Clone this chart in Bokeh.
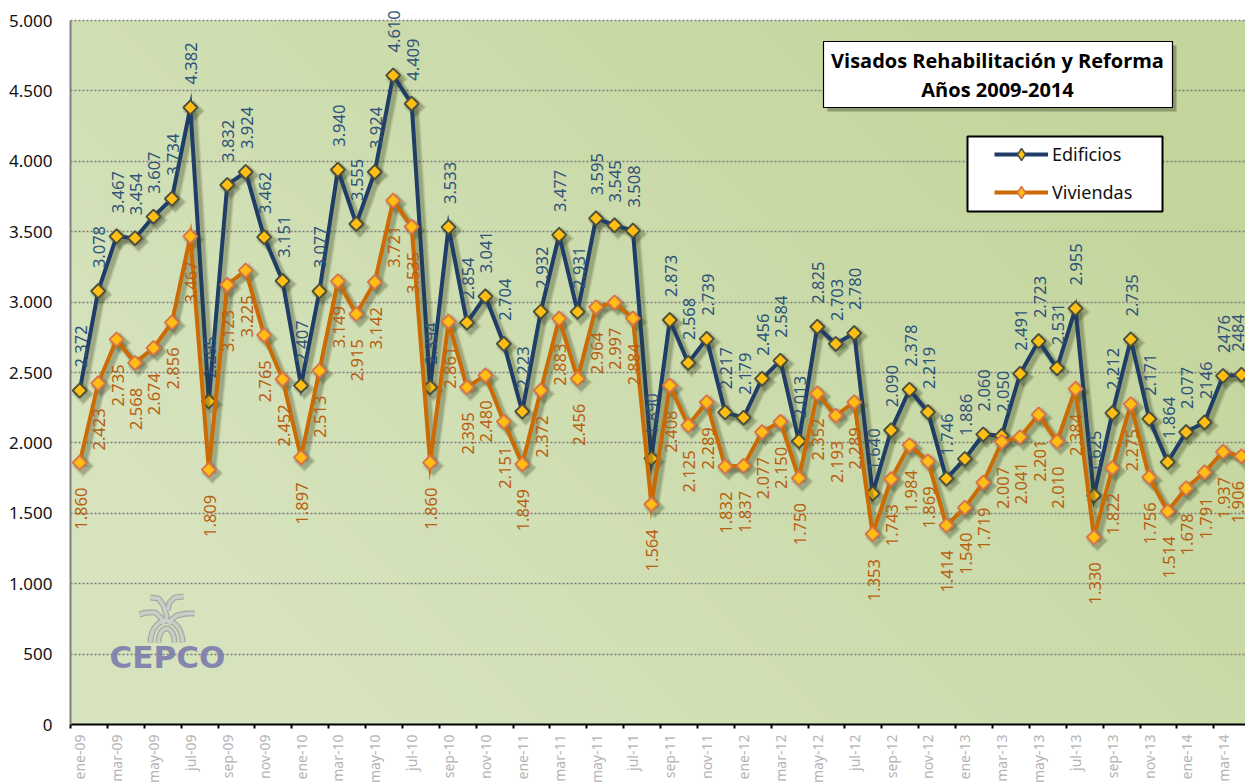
import math
import numpy as np
from bokeh.core.properties import value
from bokeh.embed import file_html
from bokeh.resources import INLINE
from bokeh.plotting import figure
from bokeh.models import (ColumnDataSource, LabelSet, Label, BoxAnnotation, FixedTicker, LinearAxis,
                          Range1d, Legend, LegendItem)
from bokeh.transform import dodge

MONTHS = ["ene", "feb", "mar", "abr", "may", "jun", "jul", "ago", "sep", "oct", "nov", "dic"]
months = [f"{MONTHS[i % 12]}-{9 + i // 12:02d}" for i in range(64)]

edificios = [2372, 3078, 3467, 3454, 3607, 3734, 4382, 2295, 3832, 3924, 3462, 3151,
             2407, 3077, 3940, 3555, 3924, 4610, 4409, 2394, 3533, 2854, 3041, 2704,
             2223, 2932, 3477, 2931, 3595, 3545, 3508, 1890, 2873, 2568, 2739, 2217,
             2179, 2456, 2584, 2013, 2825, 2703, 2780, 1640, 2090, 2378, 2219, 1746,
             1886, 2060, 2050, 2491, 2723, 2531, 2955, 1625, 2212, 2735, 2171, 1864,
             2077, 2146, 2476, 2484]
viviendas = [1860, 2423, 2735, 2568, 2674, 2856, 3467, 1809, 3123, 3225, 2765, 2452,
             1897, 2513, 3149, 2915, 3142, 3721, 3535, 1860, 2861, 2395, 2480, 2151,
             1849, 2372, 2883, 2456, 2964, 2997, 2884, 1564, 2408, 2125, 2289, 1832,
             1837, 2077, 2150, 1750, 2352, 2193, 2289, 1353, 1743, 1984, 1869, 1414,
             1540, 1719, 2007, 2041, 2201, 2010, 2384, 1330, 1822, 2275, 1756, 1514,
             1678, 1791, 1937, 1906]
undotted = {2146, 2476, 2484}
y_ticks = [0, 500, 1000, 1500, 2000, 2500, 3000, 3500, 4000, 4500, 5000]
y_labels = ["0", "500", "1.000", "1.500", "2.000", "2.500", "3.000", "3.500", "4.000", "4.500", "5.000"]

NAVY, ORANGE, GOLD = "#1f3d66", "#cc6a04", "#ffbe14"
FRAME_L, FRAME_T, FRAME_W, FRAME_B = 70, 5, 1175, 724
PLOT_H = 704  # pixels from 0 to 5000
STEP = 18.44
Y_MAX = 5000 * (FRAME_B - FRAME_T) / PLOT_H
X0, X1 = -0.5, -0.5 + FRAME_W / STEP
def px(x): return (x - FRAME_L) / STEP - 0.5
def py(y): return (FRAME_B - y) * 5000 / PLOT_H
def fmt(v):
    return str(v) if v in undotted else f"{v // 1000}.{v % 1000:03d}" if v >= 1000 else str(v)

p = figure(width=1245, height=782, output_backend="svg", toolbar_location=None,
           x_range=Range1d(X0, X1), y_range=Range1d(0, Y_MAX),
           min_border_left=FRAME_L, min_border_right=0, min_border_top=FRAME_T, min_border_bottom=58,
           frame_width=FRAME_W, frame_height=FRAME_B - FRAME_T, x_axis_location=None, y_axis_location="left",
           background_fill_color="white", border_fill_color="white",
           outline_line_color=None)

# background gradient
ny, nx = 176, 294
yy, xx = np.mgrid[0:ny, 0:nx]
t = 0.62 * xx / (nx - 1) + 0.38 * yy / (ny - 1)
t = np.clip((t - 0.18) / 0.72, 0, 1)
c0, c1 = np.array([214, 227, 189]), np.array([195, 213, 155])
rgb = (c0[None, None, :] * (1 - t[..., None]) + c1[None, None, :] * t[..., None]).astype(np.uint32)
img = (255 << 24) | (rgb[..., 2] << 16) | (rgb[..., 1] << 8) | rgb[..., 0]
p.image_rgba(image=[img], x=X0, y=0, dw=X1 - X0, dh=5000, level="image")

# grid
p.xgrid.visible = False
p.ygrid.ticker = FixedTicker(ticks=y_ticks)
p.ygrid.grid_line_color = "#7b7b78"
p.ygrid.grid_line_width = 1.4
p.ygrid.grid_line_dash = "2 2"

# axes
yaxis = p.yaxis[0]
yaxis.bounds = (0, 5000)
yaxis.ticker = FixedTicker(ticks=y_ticks)
yaxis.major_label_overrides = {t_: l for t_, l in zip(y_ticks, y_labels)}
yaxis.major_tick_line_color = None
yaxis.minor_tick_line_color = None
yaxis.major_tick_out = 0
yaxis.major_tick_in = 0
yaxis.major_label_standoff = 18
yaxis.major_label_text_font = "Noto Sans"
yaxis.major_label_text_font_size = "17px"
yaxis.major_label_text_color = "#111111"
yaxis.axis_line_color = "#808080"
yaxis.axis_line_width = 2

ticks_axis = LinearAxis(ticker=FixedTicker(ticks=[-0.5 + 2 * i for i in range(33)]),
                        major_label_overrides={-0.5 + 2 * i: "" for i in range(33)},
                        major_label_text_font_size="1px", major_label_standoff=0,
                        axis_line_color="black", axis_line_width=2,
                        major_tick_line_color="black", major_tick_line_width=2,
                        major_tick_out=4, major_tick_in=0, minor_tick_line_color=None)
p.add_layout(ticks_axis, "below")
lab_ticks = [2 * i for i in range(32)]
label_axis = LinearAxis(ticker=FixedTicker(ticks=lab_ticks),
                        major_label_overrides={i: months[i] for i in lab_ticks},
                        major_label_orientation=math.pi / 2,
                        major_label_text_font="Noto Sans", major_label_text_font_size="14px",
                        major_label_text_color="#b4b4b4", major_label_standoff=0,
                        axis_line_color=None, major_tick_line_color=None, minor_tick_line_color=None)
p.add_layout(label_axis, "below")

x = list(range(64))
nudge = [1] * 63 + [-3]   # keeps the last label inside the picture
src_e = ColumnDataSource(dict(x=x, y=edificios, lab=[fmt(v) for v in edificios], dx=nudge))
src_v = ColumnDataSource(dict(x=x, y=viviendas, lab=[fmt(v) for v in viviendas], dx=nudge))

SX, SY = 3.5 / STEP, -3.5 * 5000 / PLOT_H
def draw(src, line_color, edge_color, edge_width):
    sx, sy = dodge("x", SX), dodge("y", SY)
    for w, a in ((9, 0.09), (7, 0.13), (5, 0.18)):
        p.line(x=sx, y=sy, source=src, line_color="#3a4224", line_width=w, line_alpha=a)
    for s, a in ((16, 0.14), (13, 0.24)):
        p.scatter(x=sx, y=sy, source=src, marker="square", angle=math.pi / 4, size=s,
                  fill_color="#3a4224", fill_alpha=a, line_color=None)
    ln = p.line(x="x", y="y", source=src, line_color=line_color, line_width=4, line_join="miter")
    p.scatter(x="x", y="y", source=src, marker="square", angle=math.pi / 4, size=10,
              fill_color=GOLD, line_color=edge_color, line_width=edge_width)
    key = p.scatter(x=[float("nan")], y=[float("nan")], marker="diamond", size=10,
                    fill_color=GOLD, line_color=edge_color, line_width=1.5)
    return ln, key

ln_e, key_e = draw(src_e, NAVY, "#4c4f3c", 1.9)
ln_v, key_v = draw(src_v, ORANGE, "#d9734a", 1.9)

# shadow under the bottom axis
p.add_layout(BoxAnnotation(left=px(71), right=px(1245), top=py(725), bottom=py(729),
                           fill_color="#555555", fill_alpha=0.3, line_color=None))

p.add_layout(LabelSet(x="x", y="y", text="lab", source=src_e, angle=math.pi / 2, y_offset=23, x_offset="dx",
                      text_align="left", text_baseline="middle", text_font=value("Noto Sans"),
                      text_font_size=value("16.5px"), text_color="#2f5379"))
p.add_layout(LabelSet(x="x", y="y", text="lab", source=src_v, angle=math.pi / 2, y_offset=-25, x_offset="dx",
                      text_align="right", text_baseline="middle", text_font=value("Noto Sans"),
                      text_font_size=value("16.5px"), text_color="#b85f10"))

# logo
def arc(cx, cy, rx, ry, a0=0, a1=180, n=24):
    a = np.radians(np.linspace(a0, a1, n))
    return [cx + rx * np.cos(a), cy - ry * np.sin(a)]
strokes = [arc(166, 642, 16, 22), arc(166, 642, 8, 14),
           [np.array([139, 146, 155, 161, 163]), np.array([614, 612, 612, 618, 624])],
           [np.array([194, 186, 176, 170, 168]), np.array([613, 613, 615, 620, 624])],
           [np.array([150, 158, 163, 166, 165]), np.array([597, 598, 605, 615, 622])],
           [np.array([183, 174, 169, 167]), np.array([596, 597, 602, 610])]]
for s_color, s_width in (("#a0a39e", 6), ("#ced2ca", 3.5)):
    for sxs, sys in strokes:
        p.line(x=px(np.asarray(sxs)), y=py(np.asarray(sys)), line_color=s_color, line_width=s_width, line_alpha=0.9)
p.add_layout(Label(x=px(109), y=py(656), text="CEPCO", text_font="DejaVu Sans", text_font_style="bold",
                   text_font_size="31px", text_color="#7f80ad", text_baseline="middle", text_alpha=0.95))

# title box
p.add_layout(BoxAnnotation(left=px(827), right=px(1176), top=py(45), bottom=py(111),
                           fill_color="#4a5236", fill_alpha=0.45, line_color=None))
p.add_layout(BoxAnnotation(left=px(823), right=px(1172), top=py(41), bottom=py(107),
                           fill_color="white", fill_alpha=1, line_color="black", line_width=1.2, line_alpha=1))
for txt, yc in (("Visados Rehabilitación y Reforma", 60), ("Años 2009-2014", 89)):
    p.add_layout(Label(x=px(997), y=py(yc), text=txt, text_align="center", text_baseline="middle",
                       text_font="Open Sans", text_font_style="bold", text_font_size="20px", text_color="black"))

# legend
p.add_layout(BoxAnnotation(left=px(967), right=px(1162), top=py(136), bottom=py(211),
                           fill_color="white", fill_alpha=1, line_color="black", line_width=2, line_alpha=1))
legend = Legend(items=[LegendItem(label="Edificios", renderers=[ln_e, key_e]),
                       LegendItem(label="Viviendas", renderers=[ln_v, key_v])],
                location=(924, 517), orientation="vertical",
                glyph_width=54, glyph_height=30, label_standoff=4, padding=0, spacing=8, margin=0,
                label_text_font="Noto Sans", label_text_font_size="18px", label_text_color="#111111",
                border_line_color=None, background_fill_alpha=0)
p.add_layout(legend, "center")

open("out.html", "w").write(file_html(p, INLINE))
